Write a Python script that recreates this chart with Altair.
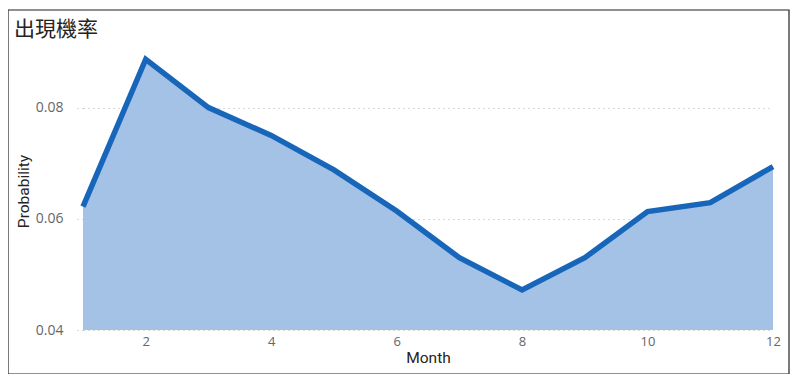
import altair as alt
import pandas as pd

months = [1, 2, 3, 4, 5, 6, 7, 8, 9, 10, 11, 12]
probability = [0.0622, 0.0887, 0.0800, 0.0750, 0.0688, 0.0614,
               0.0530, 0.0472, 0.0530, 0.0613, 0.0629, 0.0694]
y_ticks = [0.04, 0.06, 0.08]
x_ticks = [2, 4, 6, 8, 10, 12]

df = pd.DataFrame({"Month": months, "Probability": probability})

W, H = 690, 278
PL, PT, PR, PB = 75, 44, 19, 44

x = alt.X("Month:Q",
          scale=alt.Scale(domain=[1, 12], nice=False, zero=False),
          axis=alt.Axis(values=x_ticks, format="d", title="Month", grid=False,
                        domain=False, ticks=False, labelColor="#666666",
                        labelFontSize=13, labelFont="Open Sans", labelPadding=5,
                        labelFlush=False,
                        titleFont="Roboto", titleFontSize=15.5, titleFontWeight="normal",
                        titleColor="#252423", titlePadding=2, zindex=1))
y = alt.Y("Probability:Q",
          scale=alt.Scale(domain=[0.04, 0.09], nice=False, zero=False),
          axis=alt.Axis(values=y_ticks, format=".2f", title="Probability",
                        grid=True, gridDash=[1, 4], gridColor="#b0b0b0",
                        domain=False, ticks=True, tickSize=10, tickDash=[1, 4],
                        tickColor="#b0b0b0", labelPadding=10, labelFlush=False,
                        labelColor="#666666", labelFontSize=14, labelFont="Open Sans",
                        titleFont="Roboto", titleFontSize=15.5, titleFontWeight="normal",
                        titleColor="#252423", titlePadding=4))

base = alt.Chart(df)
area = base.mark_area(color="#a4c2e6", opacity=1).encode(
    x=x, y=y, y2=alt.datum(0.04))
line = base.mark_line(color="#1766ba", strokeWidth=5.5, strokeJoin="miter",
                      strokeCap="butt").encode(x="Month:Q", y="Probability:Q")

border = alt.Chart(pd.DataFrame({"a": [0]})).mark_rect(
    fill=None, stroke="#222222", strokeWidth=1.2
).encode(x=alt.value(-PL + 0), y=alt.value(-PT + 2),
         x2=alt.value(W + PR - 3), y2=alt.value(H + PB - 0))

title = alt.Chart(pd.DataFrame({"t": ["出現機率"]})).mark_text(
    align="left", baseline="top", fontSize=21, font="Noto Sans CJK TC",
    color="#252423"
).encode(text="t:N", x=alt.value(-PL + 6), y=alt.value(-PT + 11))

chart = alt.layer(area, line, border, title).properties(
    width=W, height=H,
    background="white",
    autosize=alt.AutoSizeParams(type="none"),
    padding={"left": PL, "top": PT, "right": PR, "bottom": PB},
).configure_view(strokeWidth=0, stroke="transparent")

chart.save("out.html", embed_options={"renderer": "svg", "actions": False})
